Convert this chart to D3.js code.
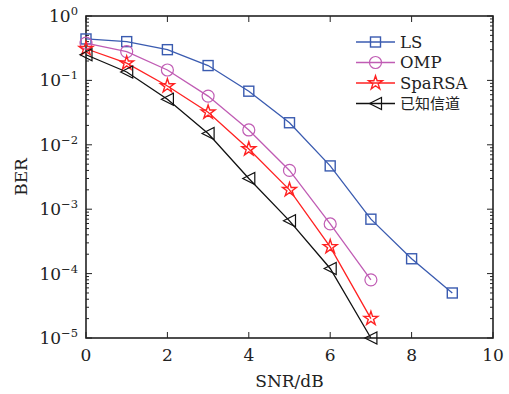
<!DOCTYPE html>
<html><head><meta charset="utf-8">
<script src="https://cdn.jsdelivr.net/npm/d3@7"></script>
<style>body{margin:0;background:#fff}</style>
</head><body>
<svg id="c" width="509" height="394"></svg>
<script>
const snrLS = [0,1,2,3,4,5,6,7,8,9];
const berLS = [0.44,0.40,0.30,0.17,0.068,0.022,0.0047,0.0007,0.00017,0.00005];
const snr8 = [0,1,2,3,4,5,6,7];
const berOMP = [0.38,0.28,0.145,0.057,0.017,0.004,0.00059,0.00008];
const berSpaRSA = [0.31,0.185,0.082,0.032,0.0086,0.002,0.00026,0.00002];
const berKnown = [0.25,0.135,0.051,0.015,0.003,0.00066,0.00012,0.00001];
const seriesNames = ["LS","OMP","SpaRSA","已知信道"];
const xTicks = [0,2,4,6,8,10];
const yExps = [0,-1,-2,-3,-4,-5];

const colors = ["#3a5bb0","#c05cb4","#ff2222","#111111"];
const markers = ["square","circle","star","triangle"];
const series = [
  {name:seriesNames[0], x:snrLS, y:berLS},
  {name:seriesNames[1], x:snr8, y:berOMP},
  {name:seriesNames[2], x:snr8, y:berSpaRSA},
  {name:seriesNames[3], x:snr8, y:berKnown}
];

const L=86,R=493,T=16,B=338;
const svg=d3.select("#c");
const x=d3.scaleLinear().domain([0,10]).range([L,R]);
const y=d3.scaleLog().domain([1e-5,1]).range([B,T]);
const font="'DejaVu Serif','Liberation Serif',serif";
const fs=17;

const g=svg.append("g");
const minor=[];
for(let e=-5;e<0;e++) for(let k=2;k<=9;k++) minor.push(k*Math.pow(10,e));
minor.forEach(v=>{
  g.append("line").attr("x1",L).attr("x2",L+3).attr("y1",y(v)).attr("y2",y(v)).attr("stroke","#222").attr("stroke-width",1);
  g.append("line").attr("x1",R).attr("x2",R-3).attr("y1",y(v)).attr("y2",y(v)).attr("stroke","#222").attr("stroke-width",1);
});
yExps.forEach(e=>{
  const v=Math.pow(10,e);
  g.append("line").attr("x1",L).attr("x2",L+6).attr("y1",y(v)).attr("y2",y(v)).attr("stroke","#222");
  g.append("line").attr("x1",R).attr("x2",R-6).attr("y1",y(v)).attr("y2",y(v)).attr("stroke","#222");
  const t=g.append("text").attr("x",L-8).attr("y",y(v)+6).attr("text-anchor","end")
    .attr("font-family",font).attr("font-size",fs).attr("fill","#222");
  t.append("tspan").text("10");
  t.append("tspan").attr("dy",-7).attr("font-size",11.5).text(e===0?"0":"\u2212"+(-e));
});
xTicks.forEach(v=>{
  g.append("line").attr("x1",x(v)).attr("x2",x(v)).attr("y1",B).attr("y2",B-6).attr("stroke","#222");
  g.append("line").attr("x1",x(v)).attr("x2",x(v)).attr("y1",T).attr("y2",T+6).attr("stroke","#222");
  g.append("text").attr("x",x(v)).attr("y",B+23).attr("text-anchor","middle")
    .attr("font-family",font).attr("font-size",fs).attr("fill","#222").text(v);
});

svg.append("rect").attr("x",L).attr("y",T).attr("width",R-L).attr("height",B-T)
  .attr("fill","none").attr("stroke","#222").attr("stroke-width",1.6);

function drawMarker(sel,type,cx,cy,color){
  if(type==="square") sel.append("rect").attr("x",cx-5).attr("y",cy-5).attr("width",10).attr("height",10)
    .attr("fill","none").attr("stroke",color).attr("stroke-width",1.4);
  else if(type==="circle") sel.append("circle").attr("cx",cx).attr("cy",cy).attr("r",6)
    .attr("fill","none").attr("stroke",color).attr("stroke-width",1.2);
  else if(type==="star") sel.append("path").attr("transform",`translate(${cx},${cy})`)
    .attr("d",d3.symbol().type(d3.symbolStar).size(60)()).attr("fill","none").attr("stroke",color).attr("stroke-width",1.4);
  else if(type==="triangle") sel.append("path")
    .attr("d",`M${cx-6},${cy}L${cx+6},${cy-6}L${cx+6},${cy+6}Z`).attr("fill","none").attr("stroke",color).attr("stroke-width",1.2);
}

const line=d3.line().x(d=>x(d[0])).y(d=>y(d[1]));
series.forEach((s,i)=>{
  const pts=s.x.map((v,j)=>[v,s.y[j]]);
  svg.append("path").attr("d",line(pts)).attr("fill","none").attr("stroke",colors[i]).attr("stroke-width",1.3);
  const mg=svg.append("g");
  pts.forEach(p=>drawMarker(mg,markers[i],x(p[0]),y(p[1]),colors[i]));
});

const lg=svg.append("g");
series.forEach((s,i)=>{
  const ly=42+i*20.5;
  lg.append("line").attr("x1",356).attr("x2",395).attr("y1",ly).attr("y2",ly).attr("stroke",colors[i]).attr("stroke-width",1.3);
  drawMarker(lg,markers[i],375.5,ly,colors[i]);
  lg.append("text").attr("x",400).attr("y",ly+5.5).attr("font-family",i===3?"'Noto Sans CJK SC',sans-serif":font)
    .attr("font-size",i===3?15:16.5).attr("fill","#222").text(s.name);
});

svg.append("text").attr("x",(L+R)/2).attr("y",387).attr("text-anchor","middle")
  .attr("font-family",font).attr("font-size",fs).attr("fill","#222").text("SNR/dB");
svg.append("text").attr("transform",`translate(27,${(T+B)/2}) rotate(-90)`).attr("text-anchor","middle")
  .attr("font-family",font).attr("font-size",fs).attr("fill","#222").text("BER");
</script>
</body></html>
